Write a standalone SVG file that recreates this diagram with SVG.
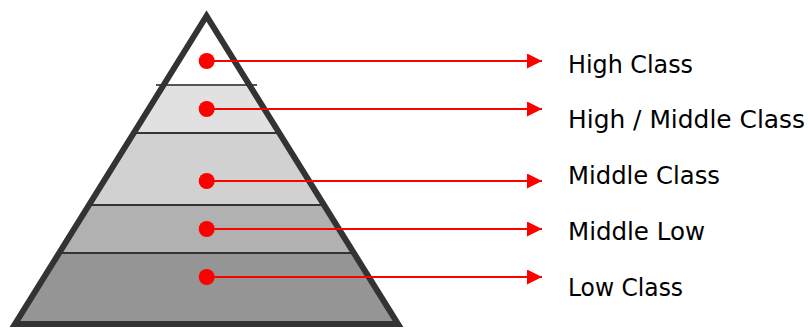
<svg xmlns="http://www.w3.org/2000/svg" width="812" height="329" viewBox="0 0 812 329">
  <defs>
    <clipPath id="tri">
      <polygon points="206.5,16 15,324 398,324"/>
    </clipPath>
    <marker id="arrow" viewBox="0 0 10 10" refX="10" refY="5" markerWidth="15" markerHeight="15" markerUnits="userSpaceOnUse" orient="auto">
      <path d="M0,0 L10,5 L0,10 z" fill="#ff0000"/>
    </marker>
  </defs>
  <style>
    .divider { stroke: #333333; stroke-width: 2; }
    .conn { stroke: #ff0000; stroke-width: 2; fill: none; }
    .dot { fill: #ff0000; }
    .label { font-family: "DejaVu Sans", "Noto Sans", sans-serif; font-size: 24px; fill: #000000; }
  </style>
  <rect width="812" height="329" fill="#ffffff"/>
  <g id="pyramid">
    <g clip-path="url(#tri)">
      <g id="layer-high"><rect x="0" y="0" width="420" height="85" fill="#ffffff"/></g>
      <g id="layer-high-middle"><rect x="0" y="85" width="420" height="48" fill="#e1e1e1"/></g>
      <g id="layer-middle"><rect x="0" y="133" width="420" height="72" fill="#d1d1d1"/></g>
      <g id="layer-middle-low"><rect x="0" y="205" width="420" height="48" fill="#b1b1b1"/></g>
      <g id="layer-low"><rect x="0" y="253" width="420" height="80" fill="#959595"/></g>
      <line class="divider" x1="0" y1="133" x2="420" y2="133"/>
      <line class="divider" x1="0" y1="205" x2="420" y2="205"/>
      <line class="divider" x1="0" y1="253" x2="420" y2="253"/>
    </g>
    <line x1="156" y1="85" x2="257" y2="85" stroke="#555555" stroke-width="2"/>
    <polygon points="206.5,16 15,324 398,324" fill="none" stroke="#333333" stroke-width="6" stroke-linejoin="miter" stroke-miterlimit="10"/>
  </g>
  <g id="connectors">
    <line class="conn" x1="207" y1="61" x2="542" y2="61" marker-end="url(#arrow)"/>
    <line class="conn" x1="207" y1="109" x2="542" y2="109" marker-end="url(#arrow)"/>
    <line class="conn" x1="207" y1="181" x2="542" y2="181" marker-end="url(#arrow)"/>
    <line class="conn" x1="207" y1="229" x2="542" y2="229" marker-end="url(#arrow)"/>
    <line class="conn" x1="207" y1="277" x2="542" y2="277" marker-end="url(#arrow)"/>
    <circle class="dot" cx="206.7" cy="61" r="8"/>
    <circle class="dot" cx="206.7" cy="109" r="8"/>
    <circle class="dot" cx="206.7" cy="181" r="8"/>
    <circle class="dot" cx="206.7" cy="229" r="8"/>
    <circle class="dot" cx="206.7" cy="277" r="8"/>
  </g>
  <g id="label-high"><text class="label" x="568" y="73" textLength="125" lengthAdjust="spacingAndGlyphs">High Class</text></g>
  <g id="label-high-middle"><text class="label" x="568" y="128" textLength="237" lengthAdjust="spacingAndGlyphs">High / Middle Class</text></g>
  <g id="label-middle"><text class="label" x="568" y="184" textLength="152" lengthAdjust="spacingAndGlyphs">Middle Class</text></g>
  <g id="label-middle-low"><text class="label" x="568" y="240" textLength="137" lengthAdjust="spacingAndGlyphs">Middle Low</text></g>
  <g id="label-low"><text class="label" x="568" y="296" textLength="115" lengthAdjust="spacingAndGlyphs">Low Class</text></g>
</svg>
